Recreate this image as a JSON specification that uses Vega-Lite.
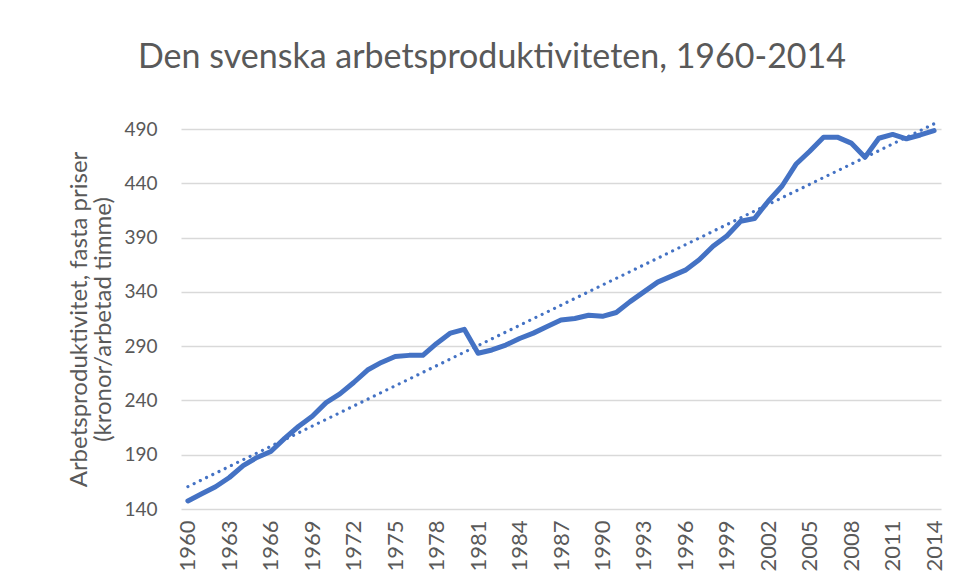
{
  "$schema": "https://vega.github.io/schema/vega-lite/v6.json",
  "width": 760,
  "height": 380,
  "autosize": {"type": "none"},
  "padding": {"left": 181, "top": 129, "right": 21, "bottom": 79},
  "background": "white",
  "config": {
    "view": {"stroke": null},
    "font": "Lato"
  },
  "title": {
    "text": "Den svenska arbetsproduktiviteten, 1960-2014",
    "font": "Lato",
    "fontSize": 34,
    "fontWeight": "normal",
    "color": "#595959",
    "anchor": "middle",
    "frame": "group",
    "dx": -69,
    "offset": 42
  },
  "data": {
    "values": [
      {"year": 1960, "value": 147.4},
      {"year": 1961, "value": 154},
      {"year": 1962, "value": 160.5},
      {"year": 1963, "value": 169},
      {"year": 1964, "value": 180},
      {"year": 1965, "value": 187.5},
      {"year": 1966, "value": 193},
      {"year": 1967, "value": 205},
      {"year": 1968, "value": 216},
      {"year": 1969, "value": 225.5},
      {"year": 1970, "value": 238},
      {"year": 1971, "value": 246},
      {"year": 1972, "value": 256.5},
      {"year": 1973, "value": 268},
      {"year": 1974, "value": 275},
      {"year": 1975, "value": 280.5},
      {"year": 1976, "value": 281.5},
      {"year": 1977, "value": 281.5},
      {"year": 1978, "value": 292.5},
      {"year": 1979, "value": 302},
      {"year": 1980, "value": 305.5},
      {"year": 1981, "value": 283.5},
      {"year": 1982, "value": 286.5},
      {"year": 1983, "value": 291},
      {"year": 1984, "value": 297},
      {"year": 1985, "value": 302},
      {"year": 1986, "value": 308},
      {"year": 1987, "value": 314},
      {"year": 1988, "value": 315.5},
      {"year": 1989, "value": 318.5},
      {"year": 1990, "value": 317.5},
      {"year": 1991, "value": 321},
      {"year": 1992, "value": 331},
      {"year": 1993, "value": 340},
      {"year": 1994, "value": 349},
      {"year": 1995, "value": 354.5},
      {"year": 1996, "value": 360},
      {"year": 1997, "value": 369.5},
      {"year": 1998, "value": 382},
      {"year": 1999, "value": 391.5},
      {"year": 2000, "value": 405},
      {"year": 2001, "value": 407.5},
      {"year": 2002, "value": 423.5},
      {"year": 2003, "value": 437.5},
      {"year": 2004, "value": 457.5},
      {"year": 2005, "value": 469.5},
      {"year": 2006, "value": 482.5},
      {"year": 2007, "value": 482.5},
      {"year": 2008, "value": 477},
      {"year": 2009, "value": 464},
      {"year": 2010, "value": 481.5},
      {"year": 2011, "value": 485},
      {"year": 2012, "value": 481},
      {"year": 2013, "value": 484.5},
      {"year": 2014, "value": 488.5}
    ]
  },
  "encoding": {
    "x": {
      "field": "year",
      "type": "quantitative",
      "scale": {"domain": [1959.5, 2014.5], "nice": false, "zero": false},
      "axis": {
        "title": null,
        "values": [1960, 1963, 1966, 1969, 1972, 1975, 1978, 1981, 1984, 1987, 1990, 1993, 1996, 1999, 2002, 2005, 2008, 2011, 2014],
        "format": "d",
        "grid": false,
        "ticks": false,
        "domain": false,
        "labelAngle": -90,
        "labelAlign": "right",
        "labelBaseline": "middle",
        "labelFont": "Lato",
        "labelFontSize": 22,
        "labelColor": "#595959",
        "labelPadding": 11,
        "labelOverlap": false
      }
    },
    "y": {
      "field": "value",
      "type": "quantitative",
      "scale": {"domain": [140, 490], "nice": false, "zero": false},
      "axis": {
        "title": ["Arbetsproduktivitet, fasta priser", "(kronor/arbetad timme)"],
        "titleFont": "Lato",
        "titleFontSize": 24,
        "titleFontWeight": "normal",
        "titleColor": "#595959",
        "titleLineHeight": 24,
        "titlePadding": 8,
        "values": [140, 190, 240, 290, 340, 390, 440, 490],
        "grid": true,
        "gridColor": "#d9d9d9",
        "gridWidth": 1.5,
        "ticks": false,
        "domain": false,
        "labelFont": "Lato",
        "labelFontSize": 19,
        "labelColor": "#595959",
        "labelPadding": 24
      }
    }
  },
  "layer": [
    {
      "mark": {"type": "line", "color": "#4472C4", "strokeWidth": 5, "strokeJoin": "round", "strokeCap": "round", "clip": false}
    },
    {
      "transform": [{"regression": "value", "on": "year"}],
      "mark": {"type": "line", "color": "#4472C4", "strokeWidth": 3.2, "strokeCap": "round", "strokeDash": [0.01, 6.9], "clip": false}
    }
  ]
}
